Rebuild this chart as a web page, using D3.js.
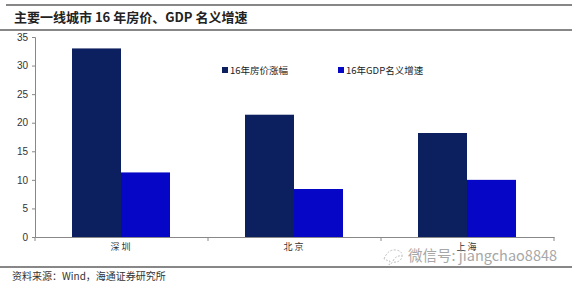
<!DOCTYPE html>
<html>
<head>
<meta charset="utf-8">
<script src="https://cdn.jsdelivr.net/npm/d3@7"></script>
<style>
  body { margin: 0; background: #fff; }
  text { font-family: "Liberation Sans", Arial, "Noto Sans CJK SC", sans-serif; }
</style>
</head>
<body>
<div id="chart"></div>
<script>
// data
var cities = ["深圳", "北京", "上海"];
var seriesNames = ["16年房价涨幅", "16年GDP名义增速"];
var housePrice = [33.0, 21.4, 18.2];
var gdpGrowth = [11.3, 8.4, 10.0];
var yTicks = [0, 5, 10, 15, 20, 25, 30, 35];

var svgWidth = 572, svgHeight = 283;
var margin = {top: 37, right: 18, bottom: 46, left: 35};
var width = svgWidth - margin.left - margin.right;
var height = svgHeight - margin.top - margin.bottom;

var colors = ["#0c1f5e", "#0606c6"];

var svg = d3.select("#chart").append("svg")
  .attr("width", svgWidth)
  .attr("height", svgHeight);

// title block with rules
svg.append("line").attr("x1", 6).attr("x2", 572).attr("y1", 5).attr("y2", 5)
  .attr("stroke", "#111").attr("stroke-width", 1.2);
svg.append("line").attr("x1", 0).attr("x2", 572).attr("y1", 30).attr("y2", 30)
  .attr("stroke", "#111").attr("stroke-width", 1.2);
svg.append("text")
  .attr("x", 14).attr("y", 22)
  .attr("font-size", 13).attr("font-weight", "bold")
  .attr("fill", "#222")
  .style("font-family", "'Noto Sans CJK SC', sans-serif")
  .text("主要一线城市 16 年房价、GDP 名义增速");

var chartGroup = svg.append("g")
  .attr("transform", `translate(${margin.left}, ${margin.top})`);

var x0 = d3.scaleBand().domain(cities).range([0, width]);
var x1 = d3.scaleBand().domain(seriesNames)
  .range([37, 37 + 98]);
var y = d3.scaleLinear().domain([0, 35]).range([height, 0]);

// axes
var yAxis = d3.axisLeft(y).tickValues(yTicks).tickSize(3).tickPadding(4);
var gy = chartGroup.append("g").call(yAxis);
gy.select(".domain").attr("stroke", "#888");
gy.selectAll(".tick line").attr("stroke", "#888");
gy.selectAll(".tick text").attr("font-size", 10).attr("fill", "#333")
  .style("font-family", "'Liberation Sans', Arial, sans-serif");

var xAxis = d3.axisBottom(x0).tickSize(0).tickPadding(7);
var gx = chartGroup.append("g")
  .attr("transform", `translate(0, ${height})`)
  .call(xAxis);
gx.select(".domain").attr("stroke", "#888");
gx.selectAll(".tick text").attr("font-size", 9).attr("fill", "#333")
  .attr("letter-spacing", 2)
  .style("font-family", "'Noto Sans CJK SC', sans-serif");

// category separator ticks
chartGroup.selectAll(".sep")
  .data(d3.range(cities.length + 1))
  .enter().append("line")
  .attr("x1", d => d * x0.step()).attr("x2", d => d * x0.step())
  .attr("y1", height).attr("y2", height + 4)
  .attr("stroke", "#888");

// bars
var rows = cities.map((c, i) => ({city: c, values: [housePrice[i], gdpGrowth[i]]}));
var groups = chartGroup.selectAll(".city")
  .data(rows)
  .enter().append("g")
  .attr("transform", d => `translate(${x0(d.city)}, 0)`);

groups.selectAll("rect")
  .data(d => d.values.map((v, j) => ({name: seriesNames[j], value: v, j: j})))
  .enter().append("rect")
  .attr("x", d => x1(d.name))
  .attr("width", x1.bandwidth())
  .attr("y", d => y(d.value))
  .attr("height", d => height - y(d.value))
  .attr("fill", d => colors[d.j]);

// legend
var legendX = [222, 338];
var legend = svg.selectAll(".legend")
  .data(seriesNames)
  .enter().append("g")
  .attr("transform", (d, i) => `translate(${legendX[i]}, 66)`);
legend.append("rect")
  .attr("width", 6).attr("height", 6).attr("y", 1)
  .attr("fill", (d, i) => colors[i]);
legend.append("text")
  .attr("x", 8).attr("y", 7.5)
  .attr("font-size", 9.5).attr("fill", "#222")
  .style("font-family", "'Noto Sans CJK SC', sans-serif")
  .text(d => d);

// watermark
var wm = svg.append("g").attr("opacity", 0.75);
wm.append("path")
  .attr("d", "M384,259 q4,-10 12,-9 q7,1 6,7 q-2,6 -9,5 l-4,3 l1,-4 q-5,-1 -6,-2 M393,261 q3,-6 9,-5")
  .attr("fill", "none").attr("stroke", "#aaa").attr("stroke-width", 1)
  .attr("stroke-dasharray", "2,1.5");
wm.append("text")
  .attr("x", 408).attr("y", 261)
  .attr("font-size", 14.5).attr("fill", "#8a8a8a")
  .style("font-family", "'Noto Sans CJK SC', sans-serif")
  .text("微信号: jiangchao8848");

// footer
svg.append("line").attr("x1", 0).attr("x2", 572).attr("y1", 267).attr("y2", 267)
  .attr("stroke", "#111").attr("stroke-width", 1.2);
svg.append("text")
  .attr("x", 12).attr("y", 280)
  .attr("font-size", 10).attr("fill", "#333")
  .style("font-family", "'Noto Sans CJK SC', sans-serif")
  .text("资料来源：Wind，海通证券研究所");
</script>
</body>
</html>
